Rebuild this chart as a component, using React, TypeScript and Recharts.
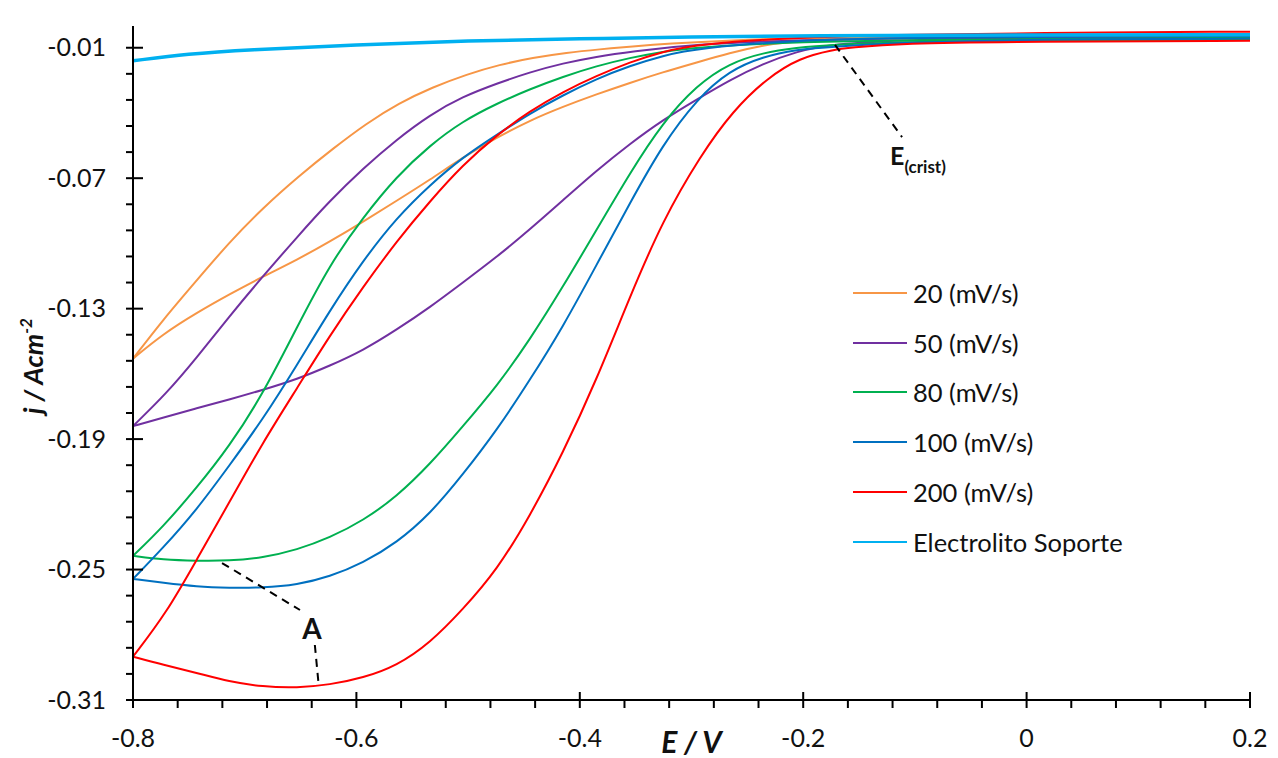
import {
  LineChart,
  Line,
  XAxis,
  YAxis,
  ReferenceLine,
  ReferenceDot,
  Legend,
} from "recharts";

type Pt = [number, number];

// E (V) vs j (A/cm2). Each scan is split in two
// branches (the more cathodic one and the return one), both sorted by E.
const v20Upper: Pt[] = [
  [-0.8, -0.153], [-0.773, -0.135], [-0.743, -0.117], [-0.714, -0.0996],
  [-0.684, -0.0838], [-0.651, -0.0688], [-0.621, -0.0564], [-0.591, -0.0448],
  [-0.562, -0.0355], [-0.532, -0.0282], [-0.501, -0.0222], [-0.472, -0.0178],
  [-0.442, -0.0146], [-0.412, -0.0123], [-0.382, -0.0107], [-0.353, -0.0094],
  [-0.322, -0.0081], [-0.263, -0.0065], [-0.203, -0.0056], [-0.1, -0.005],
  [0, -0.0048], [0.2, -0.0045],
];
const v20Lower: Pt[] = [
  [-0.8, -0.153], [-0.773, -0.1416], [-0.743, -0.1319], [-0.713, -0.1232],
  [-0.684, -0.1153], [-0.653, -0.1075], [-0.624, -0.0992], [-0.594, -0.09],
  [-0.564, -0.0804], [-0.534, -0.0707], [-0.505, -0.0605], [-0.474, -0.0512],
  [-0.445, -0.0435], [-0.415, -0.0371], [-0.385, -0.0314], [-0.355, -0.0261],
  [-0.326, -0.0213], [-0.295, -0.0167], [-0.266, -0.0124], [-0.236, -0.0089],
  [-0.206, -0.0066], [-0.1, -0.0055], [0, -0.0053], [0.2, -0.005],
];

const v50Upper: Pt[] = [
  [-0.8, -0.184], [-0.77, -0.169], [-0.743, -0.1526], [-0.714, -0.1337],
  [-0.684, -0.1153], [-0.653, -0.097], [-0.624, -0.0805], [-0.594, -0.0655],
  [-0.564, -0.0522], [-0.534, -0.0408], [-0.505, -0.0325], [-0.474, -0.0264],
  [-0.445, -0.0213], [-0.415, -0.0171], [-0.385, -0.0141], [-0.355, -0.0118],
  [-0.295, -0.0083], [-0.2, -0.0063], [-0.1, -0.0055], [0, -0.005],
  [0.2, -0.005],
];
const v50Lower: Pt[] = [
  [-0.8, -0.184], [-0.773, -0.1802], [-0.743, -0.1758], [-0.713, -0.1717],
  [-0.684, -0.1674], [-0.653, -0.1624], [-0.624, -0.1563], [-0.594, -0.1492],
  [-0.564, -0.1397], [-0.534, -0.1293], [-0.505, -0.1181], [-0.474, -0.1061],
  [-0.445, -0.0937], [-0.415, -0.0801], [-0.385, -0.0665], [-0.355, -0.0541],
  [-0.326, -0.0433], [-0.295, -0.0337], [-0.266, -0.0249], [-0.236, -0.0173],
  [-0.206, -0.0118], [-0.176, -0.0083], [-0.1, -0.0062], [0, -0.0056],
  [0.2, -0.0055],
];

const v80Upper: Pt[] = [
  [-0.8, -0.2437], [-0.773, -0.2303], [-0.743, -0.2124], [-0.714, -0.1935],
  [-0.684, -0.1696], [-0.653, -0.1383], [-0.624, -0.1098], [-0.594, -0.0880],
  [-0.564, -0.0692], [-0.534, -0.0548], [-0.505, -0.0438], [-0.474, -0.0356],
  [-0.445, -0.0291], [-0.415, -0.0233], [-0.385, -0.0184], [-0.355, -0.0146],
  [-0.326, -0.0118], [-0.295, -0.0097], [-0.2, -0.0072], [-0.1, -0.0065],
  [0, -0.006], [0.2, -0.0054],
];
const v80Lower: Pt[] = [
  [-0.8, -0.2437], [-0.773, -0.2455], [-0.743, -0.246], [-0.714, -0.246],
  [-0.684, -0.2446], [-0.653, -0.2409], [-0.624, -0.2354], [-0.594, -0.2275],
  [-0.564, -0.2165], [-0.534, -0.2015], [-0.505, -0.1843], [-0.474, -0.1655],
  [-0.445, -0.1445], [-0.415, -0.1199], [-0.385, -0.0937], [-0.355, -0.0675],
  [-0.326, -0.0445], [-0.295, -0.0271], [-0.266, -0.0171], [-0.236, -0.0123],
  [-0.206, -0.01], [-0.176, -0.0086], [-0.1, -0.0072], [0, -0.0068],
  [0.2, -0.0063],
];

const v100Upper: Pt[] = [
  [-0.8, -0.2543], [-0.773, -0.24], [-0.743, -0.2225], [-0.714, -0.2023],
  [-0.684, -0.1811], [-0.653, -0.1558], [-0.624, -0.1310], [-0.594, -0.1078],
  [-0.564, -0.0882], [-0.534, -0.0730], [-0.505, -0.0604], [-0.474, -0.0499],
  [-0.445, -0.0403], [-0.415, -0.0318], [-0.385, -0.0243], [-0.355, -0.0183],
  [-0.326, -0.0137], [-0.295, -0.0102], [-0.2, -0.0063], [-0.1, -0.0055],
  [0, -0.005], [0.2, -0.0045],
];
const v100Lower: Pt[] = [
  [-0.8, -0.2543], [-0.773, -0.2561], [-0.743, -0.2579], [-0.714, -0.2584],
  [-0.684, -0.2584], [-0.653, -0.257], [-0.624, -0.2533], [-0.594, -0.2469],
  [-0.564, -0.2377], [-0.534, -0.2244], [-0.505, -0.2065], [-0.474, -0.1857],
  [-0.445, -0.1631], [-0.415, -0.1383], [-0.385, -0.1099], [-0.355, -0.0813],
  [-0.326, -0.0547], [-0.295, -0.0335], [-0.266, -0.0205], [-0.236, -0.0141],
  [-0.206, -0.0109], [-0.176, -0.0095], [-0.1, -0.0075], [0, -0.0062],
  [0.2, -0.0058],
];

const v200Upper: Pt[] = [
  [-0.8, -0.2901], [-0.77, -0.2699], [-0.743, -0.2455], [-0.714, -0.2193],
  [-0.684, -0.1917], [-0.653, -0.1665], [-0.624, -0.1425], [-0.594, -0.1200],
  [-0.564, -0.0990], [-0.534, -0.0805], [-0.505, -0.0640], [-0.474, -0.0500],
  [-0.445, -0.0392], [-0.415, -0.0302], [-0.385, -0.0229], [-0.355, -0.0166],
  [-0.326, -0.0118], [-0.295, -0.0084], [-0.2, -0.005], [-0.1, -0.004],
  [0, -0.0032], [0.2, -0.0026],
];
const v200Lower: Pt[] = [
  [-0.8, -0.2901], [-0.773, -0.2938], [-0.743, -0.2975], [-0.714, -0.3016],
  [-0.684, -0.3039], [-0.653, -0.3044], [-0.624, -0.303], [-0.594, -0.2998],
  [-0.564, -0.2943], [-0.534, -0.2837], [-0.505, -0.2685], [-0.474, -0.2501],
  [-0.445, -0.2257], [-0.415, -0.1963], [-0.385, -0.1627], [-0.355, -0.1243],
  [-0.326, -0.0897], [-0.292, -0.0596], [-0.263, -0.0390], [-0.232, -0.0238],
  [-0.203, -0.0146], [-0.173, -0.0109], [-0.158, -0.01], [-0.114, -0.0080],
  [0, -0.0072], [0.2, -0.0068],
];

const supportElectrolyte: Pt[] = [
  [-0.8, -0.016], [-0.75, -0.0128], [-0.7, -0.011], [-0.6, -0.0086],
  [-0.5, -0.0068], [-0.4, -0.0059], [-0.3, -0.005], [-0.2, -0.0045],
  [0, -0.004], [0.2, -0.004],
];

const seriesNames = [
  "20 (mV/s)",
  "50 (mV/s)",
  "80 (mV/s)",
  "100 (mV/s)",
  "200 (mV/s)",
  "Electrolito Soporte",
];
const seriesColors = ["#F79646", "#7030A0", "#00B050", "#0070C0", "#FF0000", "#00B0F0"];

const xMajorTicks = [-0.8, -0.6, -0.4, -0.2, 0, 0.2];
const xTickLabels = ["-0.8", "-0.6", "-0.4", "-0.2", "0", "0.2"];
const yMajorTicks = [-0.31, -0.25, -0.19, -0.13, -0.07, -0.01];
const yTickLabels = ["-0.31", "-0.25", "-0.19", "-0.13", "-0.07", "-0.01"];

// annotation anchors, in data units
const peakLabel = { x: -0.6397, y: -0.2773 };
const peakLeader1: Pt[] = [[-0.7203, -0.247], [-0.6505, -0.2686]];
const peakLeader2: Pt[] = [[-0.6372, -0.2847], [-0.6336, -0.304]];
const cristLabel = { x: -0.1223, y: -0.0639 };
const cristLeader: Pt[] = [[-0.1715, -0.0087], [-0.1115, -0.0511]];

const FONT = "Lato, 'Open Sans', sans-serif";
const round = (v: number) => Math.round(v * 10000) / 10000;

// 4 minor ticks between each pair of major ticks
const withMinor = (major: number[]) => {
  const out: number[] = [];
  for (let i = 0; i < major.length - 1; i++) {
    const step = (major[i + 1] - major[i]) / 5;
    for (let k = 0; k < 5; k++) out.push(round(major[i] + k * step));
  }
  out.push(major[major.length - 1]);
  return out;
};
const xTicks = withMinor(xMajorTicks);
const yTicks = withMinor(yMajorTicks);

const toRows = (pts: Pt[]) => pts.map(([x, y]) => ({ x, y }));

const branches = [
  { key: "v20u", data: v20Upper, color: seriesColors[0], w: 2 },
  { key: "v20l", data: v20Lower, color: seriesColors[0], w: 2 },
  { key: "v50u", data: v50Upper, color: seriesColors[1], w: 2 },
  { key: "v50l", data: v50Lower, color: seriesColors[1], w: 2 },
  { key: "v80u", data: v80Upper, color: seriesColors[2], w: 2 },
  { key: "v80l", data: v80Lower, color: seriesColors[2], w: 2 },
  { key: "v100u", data: v100Upper, color: seriesColors[3], w: 2 },
  { key: "v100l", data: v100Lower, color: seriesColors[3], w: 2 },
  { key: "v200u", data: v200Upper, color: seriesColors[4], w: 2 },
  { key: "v200l", data: v200Lower, color: seriesColors[4], w: 2 },
  { key: "sup", data: supportElectrolyte, color: seriesColors[5], w: 3.5 },
];

const XTick = (props: any) => {
  const { x, y, payload } = props;
  const idx = xMajorTicks.findIndex((t) => Math.abs(t - payload.value) < 1e-6);
  const major = idx >= 0;
  return (
    <g>
      <line x1={x} x2={x} y1={major ? y - 8 : y} y2={y + 8} stroke="#000" strokeWidth={2} />
      {major && (
        <text x={x} y={y + 38} dy="0.35em" textAnchor="middle" fontFamily={FONT} fontSize={25} fill="#111">
          {xTickLabels[idx]}
        </text>
      )}
    </g>
  );
};

const YTick = (props: any) => {
  const { x, y, payload } = props;
  const idx = yMajorTicks.findIndex((t) => Math.abs(t - payload.value) < 1e-6);
  const major = idx >= 0;
  return (
    <g>
      <line x1={x - 7} x2={major ? x + 10 : x} y1={y} y2={y} stroke="#000" strokeWidth={2} />
      {major && (
        <text x={x - 27} y={y} dy="0.35em" textAnchor="end" fontFamily={FONT} fontSize={25} fill="#111">
          {yTickLabels[idx]}
        </text>
      )}
    </g>
  );
};

const LegendBox = () => (
  <div style={{ fontFamily: FONT, fontSize: 25.5, color: "#111" }}>
    {seriesNames.map((name, i) => (
      <div key={name} style={{ display: "flex", alignItems: "center", height: 49.8 }}>
        <svg width={58} height={4} style={{ marginRight: 2 }}>
          <line x1={0} x2={54} y1={2} y2={2} stroke={seriesColors[i]} strokeWidth={2} />
        </svg>
        <span>{name}</span>
      </div>
    ))}
  </div>
);

const App = () => {
  return (
    <div style={{ position: "absolute", left: 0, top: 0, background: "#fff" }}>
      <LineChart width={1278} height={758} margin={{ top: 26, right: 28, left: 0, bottom: 0 }}>
        <XAxis
          dataKey="x"
          type="number"
          domain={[-0.8, 0.2]}
          ticks={xTicks}
          interval={0}
          allowDataOverflow
          tickLine={false}
          tickSize={0}
          tickMargin={0}
          tick={<XTick />}
          axisLine={{ stroke: "#000", strokeWidth: 2 }}
          height={58}
          label={(p: any) => {
            const vb = p.viewBox;
            return (
              <text
                x={vb.x + vb.width / 2}
                y={vb.y + 42}
                dy="0.35em"
                textAnchor="middle"
                fontFamily={FONT}
                fontSize={30}
                fontWeight="bold"
                fontStyle="italic"
                fill="#111"
              >
                E / V
              </text>
            );
          }}
        />
        <YAxis
          type="number"
          domain={[-0.31, 0]}
          ticks={yTicks}
          interval={0}
          allowDataOverflow
          tickLine={false}
          tickSize={0}
          tickMargin={0}
          tick={<YTick />}
          axisLine={{ stroke: "#000", strokeWidth: 2 }}
          width={133}
          label={(p: any) => {
            const vb = p.viewBox;
            const cx = vb.x + 34;
            const cy = vb.y + vb.height / 2 + 3;
            return (
              <text
                x={cx}
                y={cy}
                dy="0.35em"
                transform={`rotate(-90 ${cx} ${cy})`}
                textAnchor="middle"
                fontFamily={FONT}
                fontSize={27}
                fontWeight="bold"
                fontStyle="italic"
                fill="#111"
              >
                j / Acm
                <tspan fontSize={17} dy="-0.7em">
                  -2
                </tspan>
              </text>
            );
          }}
        />
        {branches.map((b) => (
          <Line
            key={b.key}
            data={toRows(b.data)}
            dataKey="y"
            type="basis"
            stroke={b.color}
            strokeWidth={b.w}
            dot={false}
            activeDot={false}
            legendType="none"
            isAnimationActive={false}
          />
        ))}
        <ReferenceLine segment={toRows(peakLeader1)} stroke="#000" strokeWidth={2} strokeDasharray="8 6" />
        <ReferenceLine segment={toRows(peakLeader2)} stroke="#000" strokeWidth={2} strokeDasharray="8 6" />
        <ReferenceLine segment={toRows(cristLeader)} stroke="#000" strokeWidth={2} strokeDasharray="8 6" />
        <ReferenceDot
          x={peakLabel.x}
          y={peakLabel.y}
          r={1}
          shape={(p: any) => (
            <text x={p.cx} y={p.cy} dy="0.35em" textAnchor="middle" fontFamily={FONT} fontSize={28} fontWeight="bold" fill="#111">
              A
            </text>
          )}
        />
        <ReferenceDot
          x={cristLabel.x}
          y={cristLabel.y}
          r={1}
          shape={(p: any) => (
            <text x={p.cx} y={p.cy} textAnchor="start" fontFamily={FONT} fontSize={25} fontWeight="bold" fill="#111">
              E
              <tspan fontSize={17} dy={8}>
                (crist)
              </tspan>
            </text>
          )}
        />
        <Legend
          content={<LegendBox />}
          layout="horizontal"
          verticalAlign="middle"
          align="center"
          wrapperStyle={{ position: "absolute", left: 853, top: 268, width: 340 }}
        />
      </LineChart>
    </div>
  );
};

export default App;
